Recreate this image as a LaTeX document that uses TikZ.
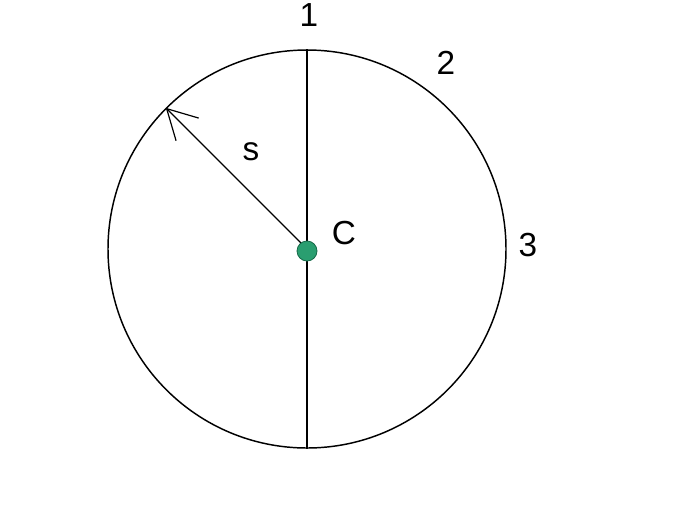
\documentclass[tikz,border=0pt]{standalone}
\usepackage{fontspec}
\setmainfont{Liberation Sans}
\usetikzlibrary{arrows.meta}
\definecolor{dotgreen}{RGB}{42,158,112}
\definecolor{dotedge}{RGB}{22,105,72}
\tikzset{
  ring/.style={draw=black, line width=1.1pt, circle, minimum size=298.5pt, inner sep=0pt},
  axisline/.style={draw=black, line width=1.5pt},
  radarr/.style={-{Straight Barb[length=22pt,width=24pt,line width=0.9pt]}, draw=black, line width=0.9pt},
  cdot/.style={circle, fill=dotgreen, draw=dotedge, line width=0.6pt, minimum size=15pt, inner sep=0pt},
  lbl/.style={font=\fontsize{25}{30}\selectfont, inner sep=0pt}
}
\begin{document}
\begin{tikzpicture}[x=0.75pt, y=-0.75pt]
  \useasboundingbox (0,0) rectangle (692,504);
  \coordinate (C) at (307,249);
  \node[ring] (circ) at (C) {};
  \draw[axisline] (circ.north) -- (circ.south);
  \draw[radarr] (C) -- (circ.135);
  \node[cdot] (dot) at (307,251) {};

  \node[lbl] (n1) at (309,15) {1};
  \node[lbl] (n2) at (446,63) {2};
  \node[lbl] (n3) at (528,245) {3};
  \node[lbl] (ns) at (251,152) {s};
  \node[lbl] (nc) at (344,233) {C};
\end{tikzpicture}
\end{document}
